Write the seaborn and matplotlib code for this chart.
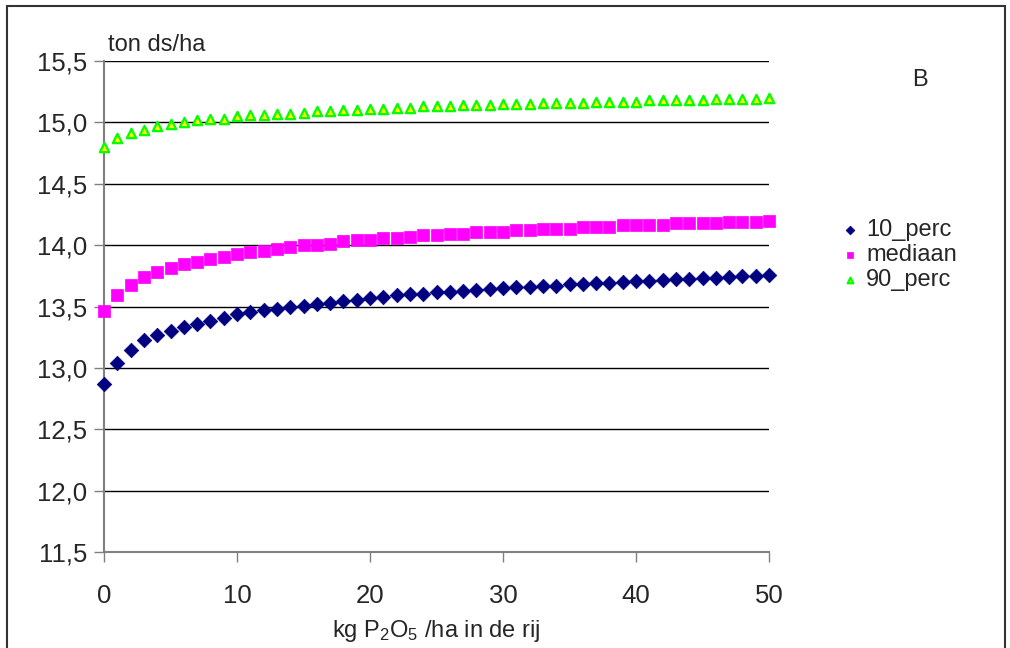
"""
Yield response to row-applied P2O5 (panel B): 10th percentile, median and 90th percentile.
"""

import pandas as pd
import matplotlib
matplotlib.use("Agg")
import matplotlib.pyplot as plt
import seaborn as sns
from matplotlib.ticker import FuncFormatter, MultipleLocator
from matplotlib.patches import Rectangle

# kg P2O5 / ha in de rij
dose = list(range(0, 51))

perc_10 = [12.87, 13.04, 13.145, 13.23, 13.27, 13.30, 13.33, 13.36, 13.385, 13.41,
           13.44, 13.455, 13.47, 13.48, 13.495, 13.505, 13.52, 13.53, 13.545, 13.555,
           13.57, 13.58, 13.59, 13.60, 13.605, 13.615, 13.62, 13.63, 13.635, 13.64,
           13.65, 13.655, 13.66, 13.665, 13.67, 13.68, 13.685, 13.69, 13.695, 13.70,
           13.705, 13.71, 13.715, 13.72, 13.725, 13.73, 13.735, 13.74, 13.745, 13.75,
           13.755]

mediaan = [13.46, 13.59, 13.675, 13.74, 13.78, 13.81, 13.85, 13.865, 13.89, 13.90,
           13.93, 13.94, 13.955, 13.97, 13.985, 14.00, 14.00, 14.01, 14.03, 14.04,
           14.04, 14.055, 14.055, 14.07, 14.08, 14.08, 14.09, 14.09, 14.11, 14.11,
           14.11, 14.12, 14.12, 14.135, 14.135, 14.135, 14.15, 14.15, 14.15, 14.16,
           14.16, 14.16, 14.16, 14.18, 14.18, 14.18, 14.18, 14.19, 14.19, 14.19,
           14.195]

perc_90 = [14.80, 14.87, 14.91, 14.94, 14.97, 14.99, 15.00, 15.02, 15.03, 15.03,
           15.05, 15.06, 15.06, 15.07, 15.07, 15.08, 15.09, 15.09, 15.10, 15.10,
           15.11, 15.11, 15.12, 15.12, 15.13, 15.13, 15.13, 15.14, 15.14, 15.14,
           15.15, 15.15, 15.15, 15.16, 15.16, 15.16, 15.16, 15.17, 15.17, 15.17,
           15.17, 15.18, 15.18, 15.18, 15.18, 15.18, 15.19, 15.19, 15.19, 15.19,
           15.20]

sns.set_style("white")
plt.rcParams['font.family'] = ['Liberation Sans', 'DejaVu Sans']
plt.rcParams['mathtext.default'] = 'regular'

df = pd.DataFrame({'dose': dose, '10_perc': perc_10, 'mediaan': mediaan, '90_perc': perc_90})

fig = plt.figure(figsize=(10.10, 6.48), dpi=100)
ax = fig.add_axes([104 / 1010, 1 - 552 / 648, (769 - 104) / 1010, (552 - 61) / 648])

# series: marker, face, edge, size
styles = {
    '10_perc': ('D', '#000080', '#000080', 55),
    'mediaan': ('s', '#FF00FF', '#FF00FF', 70),
    '90_perc': ('^', '#FFFF00', '#00FF00', 45),
}
for name, (mk, fc, ec, s) in styles.items():
    sns.scatterplot(data=df, x='dose', y=name, ax=ax, marker=mk, color=fc,
                    edgecolor=ec, linewidth=1.6 if name == '90_perc' else 0.5,
                    s=s, label=name, zorder=3, clip_on=False)

ax.set_xlim(0, 50)
ax.set_ylim(11.5, 15.5)
ax.xaxis.set_major_locator(MultipleLocator(10))
ax.yaxis.set_major_locator(MultipleLocator(0.5))
ax.yaxis.set_major_formatter(FuncFormatter(lambda v, p: f"{v:.1f}".replace('.', ',')))
ax.grid(axis='y', color='black', linewidth=1)
ax.grid(axis='x', visible=False)

for side in ['top', 'right']:
    ax.spines[side].set_visible(False)
ax.spines['left'].set_color('#808080')
ax.spines['bottom'].set_color('#808080')
ax.spines['left'].set_linewidth(1.5)
ax.spines['bottom'].set_linewidth(1.5)
ax.tick_params(axis='both', direction='out', length=7, width=1, color='#808080',
               labelsize=18.5, left=True, bottom=True)
ax.tick_params(axis='y', pad=5)
ax.tick_params(axis='x', pad=16)

ax.set_xlabel("kg P$_2$O$_5$ /ha in de rij", fontsize=17, labelpad=7)
ax.set_ylabel("")
fig.text(108 / 1010, 1 - 45 / 648, "ton ds/ha", fontsize=17, va='center', ha='left')
fig.text(920 / 1010, 1 - 80 / 648, "B", fontsize=17, va='center', ha='center')

leg = ax.legend(loc='center left', bbox_to_anchor=(838 / 1010, 1 - 255 / 648),
                bbox_transform=fig.transFigure, frameon=False, fontsize=17,
                handlelength=1.0, handletextpad=0.2, labelspacing=0.12,
                markerscale=0.6, borderaxespad=0, borderpad=0)

# chart border
fig.patches.append(Rectangle((7 / 1010, -0.05), (1005 - 7) / 1010, (642 / 648) + 0.05,
                             transform=fig.transFigure, fill=False,
                             edgecolor='#333333', linewidth=1.5))

fig.savefig("out.png", dpi=100)
